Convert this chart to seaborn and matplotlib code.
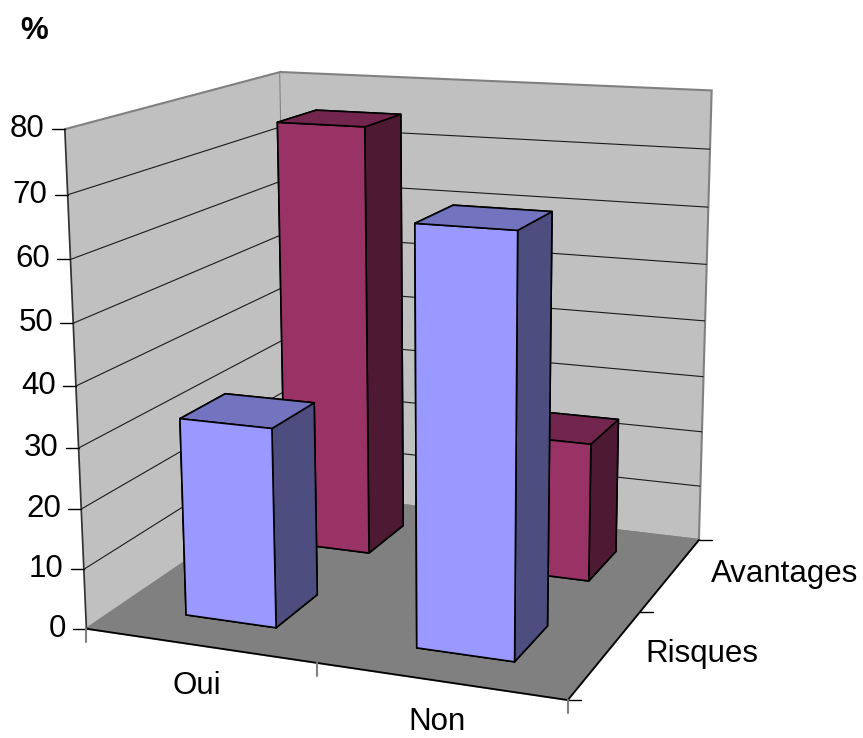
import matplotlib
matplotlib.use("Agg")
import matplotlib.pyplot as plt
from matplotlib.lines import Line2D
from matplotlib.transforms import IdentityTransform
from mpl_toolkits.mplot3d import proj3d
import seaborn as sns

categories = ["Oui", "Non"]
series = ["Risques", "Avantages"]
risques = [33, 67]
avantages = [75, 24]
z_ticks = [0, 10, 20, 30, 40, 50, 60, 70, 80]

sns.set_theme(style="white")
plt.rcParams['font.family'] = ['Liberation Sans', 'DejaVu Sans']

# front, top and side shades of each series
blue = sns.color_palette(["#9999FF", "#7373BF", "#4D4D80"])
red = sns.color_palette(["#993366", "#73264D", "#4D1933"])

BAR_W = 0.4
BAR_D = 0.42
FS = 22.5

fig = plt.figure(figsize=(8.63, 7.38), dpi=100)
ax = fig.add_axes([-0.0385, 0.010, 1.0, 1.0], projection='3d')
ax.set_proj_type('persp', focal_length=0.55)
ax.view_init(elev=14, azim=-68.3, roll=0.3)
ax.set_box_aspect((0.975, 0.935, 0.972), zoom=1.0976)
ax.patch.set_alpha(0)

for axis, col, line in zip([ax.xaxis, ax.yaxis, ax.zaxis], ["#C0C0C0", "#C0C0C0", "#808080"],
                           ["black", "black", "#333333"]):
    axis.set_pane_color(col)
    axis.pane.set_edgecolor("#808080")
    axis.pane.set_linewidth(1.5)
    axis.line.set_color(line)
    axis._axinfo['tick'].update(inward_factor=0, outward_factor=0)
ax.xaxis._axinfo['grid']['linewidth'] = 0
ax.yaxis._axinfo['grid']['linewidth'] = 0
ax.zaxis._axinfo['grid'].update(color="#1A1A1A", linewidth=0.8)

ax.set_xticks([0, 1, 2])
ax.set_yticks([0, 1, 2])
# no grid line on the wall's top edge or along the floor
ax.set_zticks(z_ticks[1:-1])
ax.set_xticklabels([])
ax.set_yticklabels([])
ax.set_zticklabels([])
ax.zaxis.set_ticks_position('lower')
ax.set_xlim(0, 2)
ax.set_ylim(0, 2)
ax.set_zlim(0, 80)

ax.computed_zorder = False


def draw_bar(x, y, h, shades, order):
    # bar3d faces: bottom, top, front, back, left, right
    cols = [shades[0], shades[1], shades[0], shades[0], shades[0], shades[2]]
    ax.bar3d(x + 0.5 - BAR_W / 2, y + 0.5 - BAR_D / 2, 0, BAR_W, BAR_D, h, color=cols,
             shade=False, edgecolor='black', linewidth=1.2, zorder=order)


draw_bar(1, 1, avantages[1], red, 3)
draw_bar(0, 1, avantages[0], red, 4)
draw_bar(1, 0, risques[1], blue, 5)
draw_bar(0, 0, risques[0], blue, 6)

# ticks and labels are put in pixels, from the projected axis positions
fig.canvas.draw()


def to_px(x, y, z):
    px, py, _ = proj3d.proj_transform(x, y, z, ax.get_proj())
    return ax.transData.transform((px, py))


def add_tick(p, dx, dy, color, lw):
    fig.add_artist(Line2D([p[0], p[0] + dx], [p[1], p[1] + dy], color=color, lw=lw,
                          transform=IdentityTransform()))


def add_label(p, s, ha):
    fig.text(p[0], p[1], s, fontsize=FS, ha=ha, va='center', color='black',
             transform=IdentityTransform())


for v in z_ticks:
    p = to_px(0, 0, v)
    add_tick(p, -13, 0, 'black', 1.0)
    add_label((p[0] - 20, p[1]), str(v), 'right')
for i in [0, 1, 2]:
    add_tick(to_px(i, 0, 0), 0, -13, '#808080', 1.5)
    add_tick(to_px(2, i, 0), 13, 0, 'black', 1.0)
for i, cat in enumerate(categories):
    p = to_px(i + 0.5, 0, 0)
    add_label((p[0] - 2, p[1] - 41), cat, 'center')
for j, name in enumerate(series):
    p = to_px(2, j + 0.5, 0)
    add_label((p[0] + 40, p[1]), name, 'left')

fig.text(0.040, 0.958, "%", fontsize=22.5, fontweight='bold', ha='center', va='center', color='black')

fig.savefig("out.png", dpi=100)
